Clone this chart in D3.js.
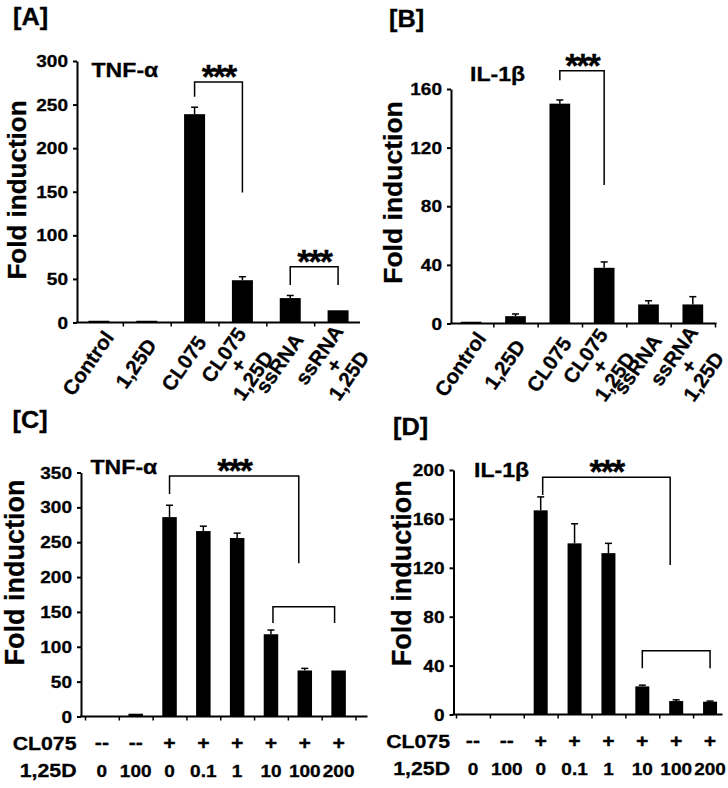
<!DOCTYPE html>
<html><head><meta charset="utf-8">
<script src="https://cdn.jsdelivr.net/npm/d3@7"></script>
<style>
body{margin:0;background:#fff}
svg{display:block}
text{font-family:"Liberation Sans",Arial,sans-serif;font-weight:bold;fill:#000;stroke:#000;stroke-width:0.3px}
</style>
</head><body>
<svg id="chart" width="728" height="788"></svg>
<script>
// ---------- data ----------
const catsAB = ["Control", "1,25D", "CL075", "CL075\n+\n1,25D", "ssRNA", "ssRNA\n+\n1,25D"];
const tnfA = [2, 2, 239, 48.5, 28, 14];
const tnfAErr = [0, 0, 8, 4, 3, 0];
const il1bB = [1.2, 5, 150, 38, 13, 13];
const il1bBErr = [0, 1.5, 2.5, 4, 2.5, 5.3];

const cl075Row = ["--", "--", "+", "+", "+", "+", "+", "+"];
const d125Row = ["0", "100", "0", "0.1", "1", "10", "100", "200"];
const tnfC = [0.5, 4, 286, 266, 256, 118, 66, 66];
const tnfCErr = [0, 0, 17, 7, 7, 6, 3, 0];
const il1bD = [0, 0, 167, 140, 132, 23, 11, 10.5];
const il1bDErr = [0, 0, 11, 16, 8, 1, 1, 0.5];

const ticksA = [0, 50, 100, 150, 200, 250, 300];
const ticksB = [0, 40, 80, 120, 160];
const ticksC = [0, 50, 100, 150, 200, 250, 300, 350];
const ticksD = [0, 40, 80, 120, 160, 200];

// brackets: category indices, heights in data units
const bracketsA = [{from: 2, to: 3, top: 276, l: 259, r: 149, stars: true},
                   {from: 4, to: 5, top: 64, l: 43, r: 43, stars: true}];
const bracketsB = [{from: 2, to: 3, top: 172.5, l: 166, r: 94.5, stars: true}];
const bracketsC = [{from: 2, to: 6, top: 345, l: 319, r: 220, stars: true, dxR: -6},
                   {from: 5, to: 7, top: 157.6, l: 134, r: 134, stars: false, dxL: 2, dxR: -4}];
const bracketsD = [{from: 2, to: 6, top: 194, l: 179.5, r: 122.3, stars: true, dxL: 2, dxR: -6},
                   {from: 5, to: 7, top: 52.2, l: 37.8, r: 37.8, stars: false}];

// ---------- layout ----------
const panels = [
  {tag: "[A]", tagX: 13, tagY: 25, gene: "TNF-α", geneX: 91.5, geneY: 76.5,
   values: tnfA, errs: tnfAErr, cats: catsAB, ticks: ticksA, brackets: bracketsA, max: 300,
   x0: 75, x1: 362, axisL: 77, axisR: 360, y0: 322.5, yT: 61, barW: 21,
   titleX: 25.5, titleY: 190, titleSize: 26},
  {tag: "[B]", tagX: 389, tagY: 26.5, gene: "IL-1β", geneX: 470, geneY: 81,
   values: il1bB, errs: il1bBErr, cats: catsAB, ticks: ticksB, brackets: bracketsB, max: 160,
   x0: 449, x1: 715, axisL: 451, axisR: 716.5, y0: 323.5, yT: 89, barW: 20.7,
   titleX: 402, titleY: 192.5, titleSize: 26.5},
  {tag: "[C]", tagX: 12.5, tagY: 428, gene: "TNF-α", geneX: 90.5, geneY: 474,
   values: tnfC, errs: tnfCErr, rows: true, ticks: ticksC, brackets: bracketsC, max: 350,
   x0: 85, x1: 355.5, axisL: 81, axisR: 367.5, y0: 716.5, yT: 472.5, barW: 14.5,
   titleX: 23.5, titleY: 572.5, titleSize: 27, rowLabelX: 76.5, row1Y: 750, row2Y: 776.5},
  {tag: "[D]", tagX: 393, tagY: 435, gene: "IL-1β", geneX: 474, geneY: 476.5,
   values: il1bD, errs: il1bDErr, rows: true, ticks: ticksD, brackets: bracketsD, max: 200,
   x0: 456, x1: 727, axisL: 453.5, axisR: 722.5, y0: 714.5, yT: 470, barW: 14,
   titleX: 410.5, titleY: 573.3, titleSize: 27, rowLabelX: 450, row1Y: 748, row2Y: 774.5}
];

const svg = d3.select("#chart");

function stext(g, x, y, str, size, sx, anchor) {
  return g.append("g").attr("transform", `translate(${x},${y}) scale(${sx},1)`)
    .append("text").attr("font-size", size).attr("text-anchor", anchor || "start").text(str);
}

function drawPanel(p) {
  const g = svg.append("g");
  const n = p.values.length;
  const x = d3.scaleBand().domain(d3.range(n)).range([p.x0, p.x1]);
  const bw = x.bandwidth();
  const cx = i => x(i) + bw / 2;
  const y = d3.scaleLinear().domain([0, p.max]).range([p.y0, p.yT]);

  // bars
  g.selectAll("rect.bar").data(p.values).join("rect").attr("class", "bar")
    .attr("x", (d, i) => cx(i) - p.barW / 2).attr("width", p.barW)
    .attr("y", d => y(d)).attr("height", d => p.y0 - y(d)).attr("fill", "#000");

  // error bars (upper only)
  const eb = g.append("g").attr("stroke", "#000").attr("stroke-width", 1.5);
  p.errs.forEach((e, i) => {
    if (e <= 0) return;
    const c = cx(i);
    eb.append("line").attr("x1", c).attr("x2", c).attr("y1", y(p.values[i])).attr("y2", y(p.values[i] + e));
    eb.append("line").attr("x1", c - 3.5).attr("x2", c + 3.5).attr("y1", y(p.values[i] + e)).attr("y2", y(p.values[i] + e));
  });

  // y axis
  const ya = g.append("g").attr("transform", `translate(${p.axisL},0)`)
    .call(d3.axisLeft(y).tickValues(p.ticks).tickSize(4).tickSizeOuter(0).tickFormat(""));
  ya.select(".domain").attr("stroke", "#000").attr("stroke-width", 2);
  ya.selectAll(".tick line").attr("stroke", "#000").attr("stroke-width", 2);
  p.ticks.forEach(t => stext(g, p.axisL - 9, y(t) + 6, String(t), 17, 1.12, "end"));

  // x axis
  const xl = d3.scaleLinear().domain([0, n]).range([p.x0, p.x1]);
  const bounds = d3.range(n + 1).filter(k => xl(k) >= p.axisL - 0.5 && xl(k) <= p.axisR + 0.5);
  const xa = g.append("g").attr("transform", `translate(0,${p.y0})`)
    .call(d3.axisBottom(xl).tickValues(bounds).tickSize(4).tickSizeOuter(0).tickFormat(""));
  xa.select(".domain").remove();
  xa.selectAll(".tick line").attr("stroke", "#000").attr("stroke-width", 1.5);
  g.append("line").attr("x1", p.axisL - 1).attr("x2", p.axisR).attr("y1", p.y0).attr("y2", p.y0)
    .attr("stroke", "#000").attr("stroke-width", 2);

  // category labels (rotated, centred lines)
  if (p.cats) {
    p.cats.forEach((c, i) => {
      const lines = c.split("\n");
      const multi = lines.length > 1;
      const bx = cx(i) + (multi ? -13 : -5), by = p.y0 + (multi ? 36.5 : 45);
      const gg = g.append("g").attr("transform", `translate(${bx},${by}) rotate(-55)`);
      lines.forEach((ln, k) => {
        gg.append("text").attr("font-size", 20.5).attr("text-anchor", "middle")
          .attr("y", k * 18).text(ln);
      });
    });
  }
  if (p.rows) {
    stext(g, p.rowLabelX, p.row1Y, "CL075", 19, 1.12, "end");
    stext(g, p.rowLabelX, p.row2Y, "1,25D", 19, 1.12, "end");
    cl075Row.forEach((s, i) => stext(g, cx(i), p.row1Y - 1, s, 19, 1.12, "middle"));
    d125Row.forEach((s, i) => stext(g, cx(i), p.row2Y, s, 17, 1.12, "middle"));
  }

  // brackets
  const bg = g.append("g").attr("stroke", "#000").attr("stroke-width", 1.5).attr("fill", "none");
  p.brackets.forEach(b => {
    const xL = cx(b.from) + (b.dxL || 0), xR = cx(b.to) + (b.dxR || 0);
    bg.append("path").attr("d", `M${xL},${y(b.l)}V${y(b.top)}H${xR}V${y(b.r)}`);
    if (b.stars) {
      g.append("text").attr("x", (xL + xR) / 2).attr("y", y(b.top) + 6)
        .attr("font-size", 34).attr("letter-spacing", -2).attr("text-anchor", "middle").text("***");
    }
  });

  // titles
  stext(g, p.tagX, p.tagY, p.tag, 23, 1.1, "start");
  stext(g, p.geneX, p.geneY, p.gene, 21, 1.1, "start");
  g.append("text").attr("transform", `translate(${p.titleX},${p.titleY}) rotate(-90)`)
    .attr("font-size", p.titleSize).attr("text-anchor", "middle").text("Fold induction");
}

panels.forEach(drawPanel);
</script>
</body></html>
